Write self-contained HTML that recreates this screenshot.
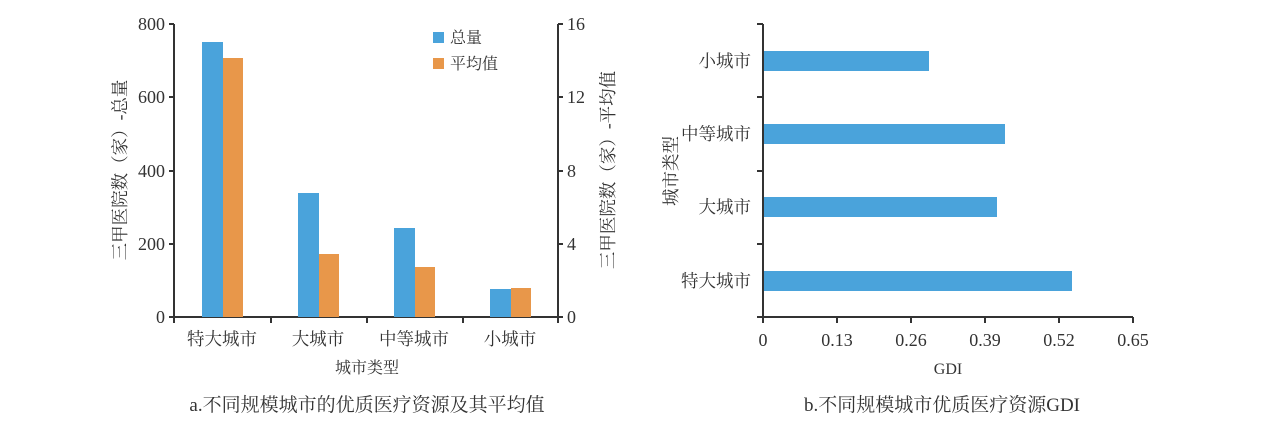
<!DOCTYPE html>
<html><head><meta charset="utf-8"><style>
html,body{margin:0;padding:0;background:#fff;}
svg{display:block;}
text{font-family:"Liberation Serif","Noto Serif CJK SC",serif;fill:#333;}
</style></head><body>
<svg width="1269" height="429" viewBox="0 0 1269 429" xmlns="http://www.w3.org/2000/svg">
<!-- Left chart -->
<g stroke="#333" stroke-width="2" fill="none">
<line x1="174" y1="24" x2="174" y2="317"/>
<line x1="558" y1="24" x2="558" y2="317"/>
<line x1="169" y1="317" x2="563" y2="317"/>
<line x1="169" y1="24" x2="174" y2="24"/><line x1="169" y1="97" x2="174" y2="97"/><line x1="169" y1="171" x2="174" y2="171"/><line x1="169" y1="244" x2="174" y2="244"/>
<line x1="558" y1="24" x2="563" y2="24"/><line x1="558" y1="97" x2="563" y2="97"/><line x1="558" y1="171" x2="563" y2="171"/><line x1="558" y1="244" x2="563" y2="244"/>
<line x1="174" y1="317" x2="174" y2="323"/><line x1="271" y1="317" x2="271" y2="323"/><line x1="367" y1="317" x2="367" y2="323"/><line x1="463" y1="317" x2="463" y2="323"/><line x1="558" y1="317" x2="558" y2="323"/>
</g>
<g>
<rect x="202" y="42" width="21" height="275" fill="#4aa3db"/>
<rect x="223" y="58" width="20" height="259" fill="#e8974a"/>
<rect x="298" y="193" width="21" height="124" fill="#4aa3db"/>
<rect x="319" y="254" width="20" height="63" fill="#e8974a"/>
<rect x="394" y="228" width="21" height="89" fill="#4aa3db"/>
<rect x="415" y="267" width="20" height="50" fill="#e8974a"/>
<rect x="490" y="289" width="21" height="28" fill="#4aa3db"/>
<rect x="511" y="288" width="20" height="29" fill="#e8974a"/>
</g>
<g font-size="18" text-anchor="end">
<text x="165" y="30">800</text><text x="165" y="103">600</text><text x="165" y="177">400</text><text x="165" y="250">200</text><text x="165" y="323">0</text>
</g>
<g font-size="18" text-anchor="start">
<text x="567" y="30">16</text><text x="567" y="103">12</text><text x="567" y="177">8</text><text x="567" y="250">4</text><text x="567" y="323">0</text>
</g>
<rect x="433" y="32" width="11" height="11" fill="#4aa3db"/>
<rect x="433" y="58" width="11" height="11" fill="#e8974a"/>
<text x="450" y="43" font-size="16">总量</text>
<text x="450" y="69" font-size="16">平均值</text>
<g font-size="17.5" text-anchor="middle">
<text x="222" y="345">特大城市</text><text x="318" y="345">大城市</text><text x="414" y="345">中等城市</text><text x="510" y="345">小城市</text>
<text x="367" y="373" font-size="16">城市类型</text>
<text x="367" y="411" font-size="19">a.不同规模城市的优质医疗资源及其平均值</text>
</g>
<text transform="translate(126,170) rotate(-90)" font-size="17.5" text-anchor="middle">三甲医院数（家）-总量</text>
<text transform="translate(614,170) rotate(-90)" font-size="17.5" text-anchor="middle">三甲医院数（家）-平均值</text>

<!-- Right chart -->
<g stroke="#333" stroke-width="2" fill="none">
<line x1="763" y1="24" x2="763" y2="317"/>
<line x1="757" y1="317" x2="1133" y2="317"/>
<line x1="757" y1="24" x2="763" y2="24"/><line x1="757" y1="97" x2="763" y2="97"/><line x1="757" y1="171" x2="763" y2="171"/><line x1="757" y1="244" x2="763" y2="244"/>
<line x1="763" y1="317" x2="763" y2="323"/><line x1="837" y1="317" x2="837" y2="323"/><line x1="911" y1="317" x2="911" y2="323"/><line x1="985" y1="317" x2="985" y2="323"/><line x1="1059" y1="317" x2="1059" y2="323"/><line x1="1133" y1="317" x2="1133" y2="323"/>
</g>
<g fill="#4aa3db">
<rect x="764" y="51" width="165" height="20"/>
<rect x="764" y="124" width="241" height="20"/>
<rect x="764" y="197" width="233" height="20"/>
<rect x="764" y="271" width="308" height="20"/>
</g>
<g font-size="17.5" text-anchor="end">
<text x="751" y="67">小城市</text><text x="751" y="140">中等城市</text><text x="751" y="213">大城市</text><text x="751" y="287">特大城市</text>
</g>
<g font-size="18" text-anchor="middle">
<text x="763" y="346">0</text><text x="837" y="346">0.13</text><text x="911" y="346">0.26</text><text x="985" y="346">0.39</text><text x="1059" y="346">0.52</text><text x="1133" y="346">0.65</text>
<text x="948" y="374" font-size="16">GDI</text>
<text x="942" y="411" font-size="19">b.不同规模城市优质医疗资源GDI</text>
</g>
<text transform="translate(677,171) rotate(-90)" font-size="17.5" text-anchor="middle">城市类型</text>
</svg>
</body></html>
